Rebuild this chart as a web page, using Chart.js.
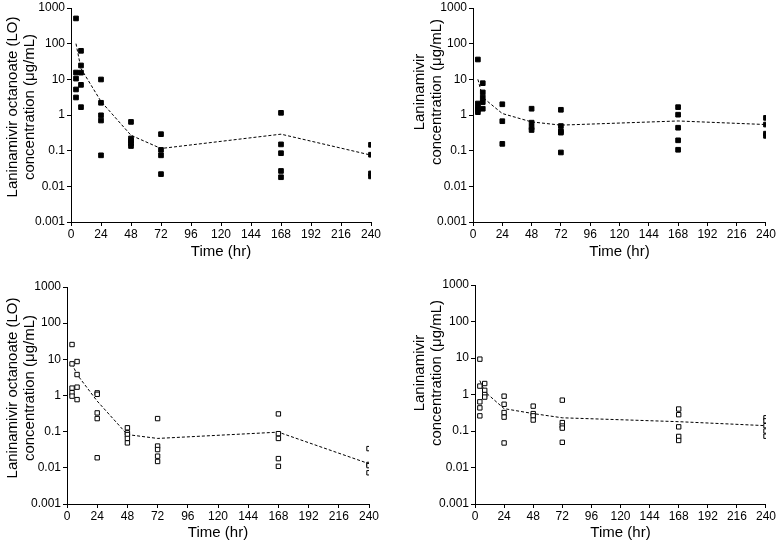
<!DOCTYPE html>
<html>
<head>
<meta charset="utf-8">
<script src="https://cdn.jsdelivr.net/npm/chart.js@4.4.0/dist/chart.umd.min.js"></script>
<style>
  html, body { margin: 0; padding: 0; background: #fff; }
  #wrap { position: relative; width: 777px; height: 542px; overflow: hidden; }
  .panel { position: absolute; }
</style>
</head>
<body>
<div id="wrap">
  <div class="panel" style="left:0;top:0"><canvas id="c1" width="388" height="271"></canvas></div>
  <div class="panel" style="left:389px;top:0"><canvas id="c2" width="388" height="271"></canvas></div>
  <div class="panel" style="left:0;top:271px"><canvas id="c3" width="388" height="271"></canvas></div>
  <div class="panel" style="left:389px;top:271px"><canvas id="c4" width="388" height="271"></canvas></div>
</div>
<script>
// axis ticks
const X_TICKS = [0, 24, 48, 72, 96, 120, 144, 168, 192, 216, 240];
const Y_TICKS = [0.001, 0.01, 0.1, 1, 10, 100, 1000];
const MEAN_TIMES = [4, 8, 24, 48, 72, 168, 240];

// top left: laninamivir octanoate, filled squares
const loTopT = [4, 4, 4, 4, 4, 8, 8, 8, 8, 8, 24, 24, 24, 24, 24, 48, 48, 48, 48, 48, 72, 72, 72, 72, 168, 168, 168, 168, 168, 240, 240, 240, 240];
const loTopC = [510, 15.5, 10.5, 5.2, 3.1, 63, 24.5, 15.4, 7.0, 1.66, 9.9, 2.2, 0.98, 0.7, 0.074, 0.64, 0.22, 0.19, 0.16, 0.135, 0.29, 0.105, 0.074, 0.022, 1.15, 0.15, 0.085, 0.027, 0.018, 0.146, 0.077, 0.023, 0.019];
const loTopMean = [100, 20, 2.4, 0.27, 0.115, 0.29, 0.075];

// top right: laninamivir, filled squares
const lnTopT = [4, 4, 4, 4, 4, 8, 8, 8, 8, 8, 24, 24, 24, 48, 48, 48, 48, 72, 72, 72, 72, 72, 168, 168, 168, 168, 168, 240, 240, 240, 240];
const lnTopC = [36, 2.1, 1.6, 1.4, 1.2, 7.8, 4.3, 3.1, 2.3, 1.5, 2.0, 0.67, 0.155, 1.5, 0.61, 0.45, 0.38, 1.4, 0.49, 0.35, 0.32, 0.089, 1.66, 1.02, 0.44, 0.195, 0.106, 0.83, 0.54, 0.30, 0.26];
const lnTopMean = [10, 3.1, 1.1, 0.64, 0.52, 0.68, 0.54];

// bottom left: laninamivir octanoate, open squares
const loBotT = [4, 4, 4, 4, 4, 8, 8, 8, 8, 24, 24, 24, 24, 24, 48, 48, 48, 48, 48, 72, 72, 72, 72, 72, 168, 168, 168, 168, 168, 240, 240, 240, 240];
const loBotC = [25.7, 7.5, 1.6, 1.2, 0.96, 8.7, 3.8, 1.7, 0.77, 1.18, 1.08, 0.33, 0.23, 0.019, 0.128, 0.093, 0.083, 0.065, 0.049, 0.23, 0.040, 0.032, 0.021, 0.015, 0.31, 0.088, 0.065, 0.018, 0.011, 0.034, 0.0124, 0.0115, 0.0073];
const loBotMean = [7.5, 3.8, 0.7, 0.083, 0.065, 0.097, 0.013];

// bottom right: laninamivir, open squares
const lnBotT = [4, 4, 4, 4, 4, 8, 8, 8, 8, 24, 24, 24, 24, 24, 48, 48, 48, 48, 72, 72, 72, 72, 72, 168, 168, 168, 168, 168, 240, 240, 240, 240, 240];
const lnBotC = [9.3, 1.7, 0.63, 0.43, 0.26, 2.0, 1.3, 1.0, 0.85, 0.9, 0.54, 0.32, 0.24, 0.047, 0.48, 0.30, 0.26, 0.20, 0.70, 0.17, 0.137, 0.12, 0.049, 0.40, 0.28, 0.13, 0.071, 0.055, 0.23, 0.19, 0.14, 0.10, 0.072];
const lnBotMean = [2.4, 1.2, 0.41, 0.30, 0.23, 0.18, 0.14];

const FONT = "'Liberation Sans', Arial, sans-serif";
const LO_TITLE = ['Laninamivir octanoate (LO)', 'concentration (\u03bcg/mL)'];
const LN_TITLE = ['Laninamivir', 'concentration (\u03bcg/mL)'];

function pairs(xs, ys) {
  return xs.map((x, i) => ({ x: x, y: ys[i] }));
}

// rotated two-line y title; Chart.js always centres it on the axis, the original sits a bit higher
const yTitlePlugin = {
  id: 'yTitleText',
  afterDraw(chart, args, opts) {
    if (!opts || !opts.lines) return;
    const ctx = chart.ctx;
    ctx.save();
    ctx.translate(opts.x, opts.cy);
    ctx.rotate(-Math.PI / 2);
    ctx.fillStyle = '#000';
    ctx.font = '15px ' + FONT;
    ctx.textAlign = 'center';
    ctx.textBaseline = 'middle';
    opts.lines.forEach((line, i) => ctx.fillText(line, 0, i * opts.gap));
    ctx.restore();
  }
};

// geom: y axis width, plot top, right pad, x axis height, x title pad, y title position
function makePanel(id, t, c, mean, yTitle, filled, geom) {
  const ctx = document.getElementById(id).getContext('2d');
  return new Chart(ctx, {
    data: {
      datasets: [
        {
          type: 'scatter',
          data: pairs(t, c),
          pointStyle: 'rect',
          pointRadius: filled ? 3.3 : 3.1,
          pointBorderWidth: 1,
          pointBackgroundColor: filled ? '#000' : '#fff',
          pointBorderColor: '#000',
          order: 0
        },
        {
          type: 'line',
          data: pairs(MEAN_TIMES, mean),
          borderColor: '#000',
          borderWidth: 1,
          borderDash: [3, 2],
          pointRadius: 0,
          fill: false,
          tension: 0,
          order: 1
        }
      ]
    },
    plugins: [yTitlePlugin],
    options: {
      responsive: false,
      animation: false,
      devicePixelRatio: 1,
      layout: { padding: { left: 0, top: geom.top, right: geom.right, bottom: 0 } },
      plugins: {
        legend: { display: false },
        tooltip: { enabled: false },
        yTitleText: { lines: yTitle, x: geom.tx, cy: geom.tcy, gap: 17 }
      },
      scales: {
        x: {
          type: 'linear',
          min: 0,
          max: 240,
          afterBuildTicks: (s) => { s.ticks = X_TICKS.map(v => ({ value: v })); },
          afterFit: (s) => { s.height = geom.xh; },
          grid: { drawOnChartArea: false, drawTicks: true, tickLength: 4, color: '#000' },
          border: { display: true, color: '#000', width: 1 },
          ticks: { color: '#000', padding: 1, maxRotation: 0, autoSkip: false, font: { family: FONT, size: 12 } },
          title: { display: true, text: 'Time (hr)', color: '#000', font: { family: FONT, size: 15 }, padding: { top: 0, bottom: geom.xtPad } }
        },
        y: {
          type: 'logarithmic',
          min: 0.001,
          max: 1000,
          afterBuildTicks: (s) => { s.ticks = Y_TICKS.map(v => ({ value: v })); },
          afterFit: (s) => { s.width = geom.yw; },
          grid: { drawOnChartArea: false, drawTicks: true, tickLength: 4, color: '#000' },
          border: { display: true, color: '#000', width: 1 },
          ticks: {
            color: '#000',
            padding: 2,
            autoSkip: false,
            font: { family: FONT, size: 12, lineHeight: 1 },
            callback: (v) => Y_TICKS.includes(v) ? String(v) : ''
          },
          title: { display: false }
        }
      }
    }
  });
}

makePanel('c1', loTopT, loTopC, loTopMean, LO_TITLE, true, { yw: 71, top: 7, right: 17, xh: 49, xtPad: 10, tx: 13, tcy: 107 });
makePanel('c2', lnTopT, lnTopC, lnTopMean, LN_TITLE, true, { yw: 84, top: 6, right: 11, xh: 49, xtPad: 10, tx: 31, tcy: 92 });
makePanel('c3', loBotT, loBotC, loBotMean, LO_TITLE, false, { yw: 67, top: 16, right: 19, xh: 38, xtPad: 0, tx: 13, tcy: 117 });
makePanel('c4', lnBotT, lnBotC, lnBotMean, LN_TITLE, false, { yw: 86, top: 14, right: 10, xh: 38, xtPad: 0, tx: 31, tcy: 102 });
</script>
</body>
</html>
